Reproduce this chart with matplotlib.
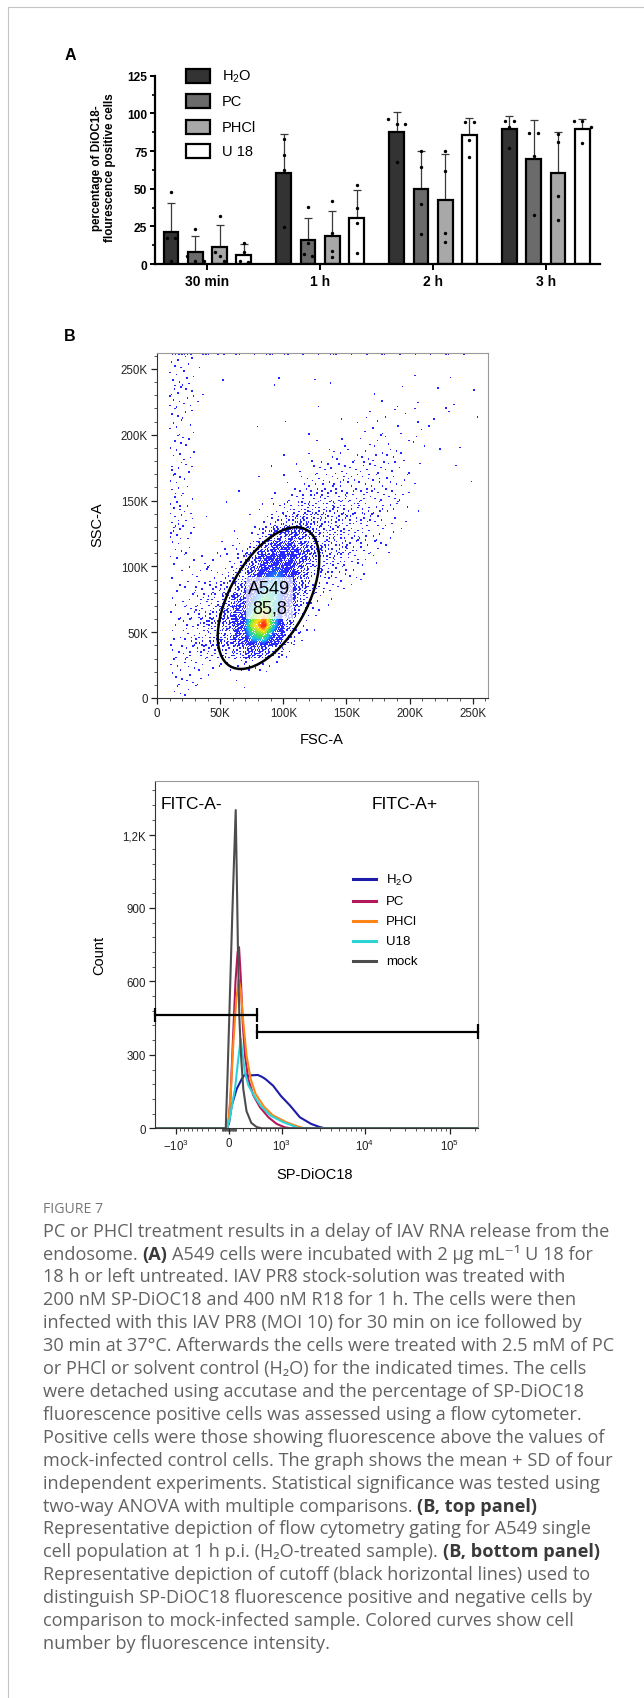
import numpy as np
import matplotlib
matplotlib.use('Agg')
import matplotlib.pyplot as plt
from matplotlib.patches import Ellipse, Rectangle
from matplotlib.lines import Line2D
from matplotlib.colors import LinearSegmentedColormap
from matplotlib.ticker import FixedLocator, FixedFormatter, MultipleLocator

plt.rcParams['font.family'] = ['Liberation Sans', 'DejaVu Sans']
plt.rcParams['mathtext.fontset'] = 'custom'
plt.rcParams['mathtext.rm'] = 'Liberation Sans'
plt.rcParams['mathtext.bf'] = 'Liberation Sans:bold'
plt.rcParams['mathtext.it'] = 'Liberation Sans:italic'

# ---------------- panel A : % DiOC18 positive cells ----------------
times = ['30 min', '1 h', '2 h', '3 h']
treatments = ['H$_2$O', 'PC', 'PHCl', 'U 18']
bar_colors = ['#333333', '#6b6b6b', '#a8a8a8', '#ffffff']

mean_h2o = [21.0, 60.2, 87.4, 89.3]
mean_pc = [8.2, 16.0, 49.5, 69.5]
mean_phcl = [11.5, 18.8, 42.5, 60.2]
mean_u18 = [6.3, 30.8, 85.8, 89.5]

sd_h2o = [19.5, 25.8, 13.3, 8.7]
sd_pc = [10.6, 14.8, 25.6, 25.8]
sd_phcl = [14.2, 16.6, 30.3, 27.3]
sd_u18 = [6.7, 18.6, 11.1, 6.5]

dots_h2o = [[48, 17, 2, 17], [83, 72.6, 62.4, 24.8], [96, 93, 93, 68], [95, 95, 91, 77]]
dots_pc = [[23.5, 5.5, 2, 2], [37.6, 14, 6.5, 5.5], [75, 64.6, 39.8, 20], [87, 87, 72, 32.5]]
dots_phcl = [[32, 8, 5.5, 2], [41.6, 20.9, 8.8, 4.4], [75, 61.5, 20.6, 14.6], [86, 80.7, 45.3, 29.4]]
dots_u18 = [[14, 8, 2, 1], [52.4, 36.9, 27.2, 7.3], [94.5, 94.5, 82, 71.2], [94.7, 94.7, 91, 80]]

# ---------------- panel B top : FSC-A / SSC-A dot plot ----------------
# estimated events per 10K x 10K cell, rows from SSC 250-260K down to 0-10K,
# columns FSC 0-10K ... 250-260K
scatter_grid = [
    [0,4,3,1,0,0,0,0,0,0,0,0,0,0,0,0,0,0,0,0,0,0,0,0,0,0],
    [0,4,3,0,0,1,0,0,0,1,0,0,1,0,0,0,0,0,0,0,1,0,0,1,0,0],
    [0,5,4,1,0,0,0,0,0,1,0,0,0,1,0,0,0,1,0,1,0,0,1,0,0,1],
    [0,5,4,1,0,0,0,0,0,0,0,0,1,0,0,0,0,1,0,1,2,0,1,1,0,0],
    [0,4,3,0,0,0,0,0,0,0,1,0,0,0,1,0,2,1,2,1,0,1,0,1,0,1],
    [0,4,2,0,0,0,0,1,0,0,0,0,1,0,0,1,1,2,0,2,2,1,0,0,0,0],
    [0,3,3,0,0,0,0,0,0,0,0,0,1,0,2,0,2,3,2,1,2,1,0,0,1,0],
    [0,4,3,0,0,0,0,0,0,0,1,0,2,2,3,3,3,3,4,2,0,0,1,0,0,0],
    [0,5,3,0,0,0,0,0,0,1,0,2,3,4,4,4,5,4,4,2,1,0,0,1,0,0],
    [0,4,2,0,0,0,0,0,1,0,2,3,5,6,6,6,6,5,4,3,1,0,0,0,1,0],
    [0,5,2,0,0,0,1,0,0,2,3,5,8,8,8,7,7,6,5,3,0,0,0,0,0,0],
    [0,6,3,0,0,1,0,0,2,4,8,12,12,11,10,8,7,6,4,2,1,0,0,0,0,0],
    [0,6,3,1,0,0,0,1,3,8,15,20,16,12,11,9,8,5,3,1,0,0,0,0,0,0],
    [0,7,3,0,0,0,2,3,10,25,35,30,20,14,12,9,6,4,2,1,0,0,0,0,0,0],
    [0,4,2,0,1,2,4,10,30,50,50,35,20,14,12,8,5,3,2,0,0,0,0,0,0,0],
    [0,3,2,2,2,3,6,20,50,65,60,35,18,12,9,6,3,2,0,0,0,0,0,0,0,0],
    [0,2,2,3,4,6,12,35,70,80,65,30,14,9,6,3,2,0,0,0,0,0,0,0,0,0],
    [0,2,3,5,7,10,22,55,85,90,60,22,9,5,3,1,0,0,0,0,0,0,0,0,0,0],
    [0,2,4,7,10,16,35,75,100,90,50,15,5,2,0,0,0,0,0,0,0,0,0,0,0,0],
    [0,2,5,9,13,22,45,95,115,85,35,9,3,0,0,0,0,0,0,0,0,0,0,0,0,0],
    [0,3,6,10,15,25,50,110,130,80,25,5,1,0,0,0,0,0,0,0,0,0,0,0,0,0],
    [0,3,6,10,13,20,40,85,95,50,12,2,0,0,0,0,0,0,0,0,0,0,0,0,0,0],
    [0,4,6,8,8,10,18,35,30,12,3,0,0,0,0,0,0,0,0,0,0,0,0,0,0,0],
    [0,4,5,4,3,3,5,6,4,1,0,0,0,0,0,0,0,0,0,0,0,0,0,0,0,0],
    [0,4,3,2,1,0,1,0,0,0,0,0,0,0,0,0,0,0,0,0,0,0,0,0,0,0],
    [0,3,2,1,0,0,1,0,0,0,0,0,0,0,0,0,0,0,0,0,0,0,0,0,0,0],
]
# events piled up at the SSC maximum, per 10K FSC bin
top_edge = [0,4,3,2,2,1,2,1,2,1,2,1,1,2,1,1,1,1,1,1,1,1,1,1,1,0]
bin_k = 10000
scale_max = 262144
gate_center = (88300, 75900)
gate_width, gate_height, gate_angle = 120000, 60500, 59.3
gate_name, gate_pct = 'A549', '85,8'

# ---------------- panel B bottom : SP-DiOC18 histogram ----------------
h2o_x = [-1858, -30, 0, 37, 107, 179, 230, 270, 310, 438, 520, 590, 765, 972, 1290, 1700, 2330, 2900, 3390, 218000]
h2o_n = [0, 0, 20, 92, 161, 201, 222, 212, 216, 218, 210, 201, 174, 133, 92, 45, 18, 6, 0, 0]
pc_x = [-1858, -30, -5, 20, 55, 90, 120, 140, 164, 193, 228, 278, 360, 480, 654, 857, 1100, 1300, 218000]
pc_n = [0, 0, 30, 120, 365, 600, 720, 740, 624, 433, 297, 201, 135, 86, 45, 18, 4, 0, 0]
phcl_x = [-1858, -30, -5, 25, 60, 100, 135, 164, 202, 251, 317, 400, 560, 750, 1150, 1500, 1900, 218000]
phcl_n = [0, 0, 30, 150, 350, 520, 607, 569, 433, 297, 201, 140, 88, 54, 25, 11, 0, 0]
u18_x = [-1858, -25, 10, 50, 83, 120, 164, 193, 228, 280, 380, 500, 700, 1050, 1400, 1650, 218000]
u18_n = [0, 0, 40, 110, 161, 260, 365, 300, 225, 175, 130, 90, 52, 25, 10, 0, 0]
mock_x = [-1858, -45, -20, 0, 23, 45, 70, 93, 110, 126, 145, 169, 202, 251, 327, 420, 512, 218000]
mock_n = [0, 0, 220, 420, 650, 870, 1100, 1300, 1000, 705, 450, 297, 161, 70, 22, 5, 0, 0]
hist_labels = ['H$_2$O', 'PC', 'PHCl', 'U18', 'mock']
hist_colors = ['#1c1ca8', '#b3185c', '#ff8418', '#2ad4d4', '#4d4d4d']
cut_x = 425
neg_gate_y = 463
pos_gate_y = 395
hist_xmin, hist_xmax = -1858, 218000

# ---------------- caption ----------------
caption = [
    [("PC or PHCl treatment results in a delay of IAV RNA release from the", 0)],
    [("endosome.", 0), ("(A)", 1), ("A549 cells were incubated with 2 µg mL\u207b\u00b9 U 18 for", 0)],
    [("18 h or left untreated. IAV PR8 stock-solution was treated with", 0)],
    [("200 nM SP-DiOC18 and 400 nM R18 for 1 h. The cells were then", 0)],
    [("infected with this IAV PR8 (MOI 10) for 30 min on ice followed by", 0)],
    [("30 min at 37°C. Afterwards the cells were treated with 2.5 mM of PC", 0)],
    [("or PHCl or solvent control (H\u2082O) for the indicated times. The cells", 0)],
    [("were detached using accutase and the percentage of SP-DiOC18", 0)],
    [("fluorescence positive cells was assessed using a flow cytometer.", 0)],
    [("Positive cells were those showing fluorescence above the values of", 0)],
    [("mock-infected control cells. The graph shows the mean + SD of four", 0)],
    [("independent experiments. Statistical significance was tested using", 0)],
    [("two-way ANOVA with multiple comparisons.", 0), ("(B, top panel)", 1)],
    [("Representative depiction of flow cytometry gating for A549 single", 0)],
    [("cell population at 1 h p.i. (H\u2082O-treated sample).", 0), ("(B, bottom panel)", 1)],
    [("Representative depiction of cutoff (black horizontal lines) used to", 0)],
    [("distinguish SP-DiOC18 fluorescence positive and negative cells by", 0)],
    [("comparison to mock-infected sample. Colored curves show cell", 0)],
    [("number by fluorescence intensity.", 0)],
]

W, H = 644, 1699
fig = plt.figure(figsize=(W / 100, H / 100), dpi=100)


def rect(l, t, r, b):
    return [l / W, 1 - b / H, (r - l) / W, (b - t) / H]


def ftext(x, y, s, **kw):
    return fig.text(x / W, 1 - y / H, s, **kw)


# page frame (top and left rule)
fig.add_artist(Line2D([8 / W, 8 / W], [0, 1 - 8 / H], transform=fig.transFigure, color='#c4c4c4', lw=0.8))
fig.add_artist(Line2D([8 / W, 1], [1 - 8 / H, 1 - 8 / H], transform=fig.transFigure, color='#c4c4c4', lw=0.8))

# ======================= panel A =======================
ax = fig.add_axes(rect(155, 76.7, 600, 265))
means = [mean_h2o, mean_pc, mean_phcl, mean_u18]
sds = [sd_h2o, sd_pc, sd_phcl, sd_u18]
dots = [dots_h2o, dots_pc, dots_phcl, dots_u18]
offsets = [-0.3227, -0.1077, 0.1077, 0.3227]
bw = 0.131
gx = np.arange(len(times))


def spread(vals):
    offs = np.zeros(len(vals))
    for a in range(len(vals)):
        close = [b for b in range(len(vals)) if abs(vals[b] - vals[a]) < 4]
        if len(close) > 1:
            offs[a] = (close.index(a) - (len(close) - 1) / 2) * 0.075
    return offs


for k in range(4):
    xs = gx + offsets[k]
    ax.bar(xs, means[k], width=bw, color=bar_colors[k], edgecolor='black', linewidth=1.6, zorder=2)
    ax.errorbar(xs, means[k], yerr=[np.zeros(4), sds[k]], fmt='none', ecolor='#3a3a3a',
                elinewidth=0.9, capsize=3.2, capthick=0.9, zorder=1)
    for g in range(4):
        v = dots[k][g]
        ax.scatter(xs[g] + spread(v), v, s=6, color='black', zorder=3, linewidths=0)

ax.set_xlim(-0.465, 3.48)
ax.set_ylim(0, 125)
ax.set_yticks([0, 25, 50, 75, 100, 125])
ax.yaxis.set_minor_locator(MultipleLocator(12.5))
ax.set_xticks(gx)
ax.set_xticklabels(times, fontsize=10, fontweight='bold')
for lab in ax.get_yticklabels():
    lab.set_fontweight('bold')
    lab.set_fontsize(8.6)
ax.spines['top'].set_visible(False)
ax.spines['right'].set_visible(False)
ax.spines['left'].set_linewidth(1.6)
ax.spines['bottom'].set_linewidth(1.6)
ax.tick_params(axis='y', which='major', length=3.5, width=1.4, pad=2)
ax.tick_params(axis='y', which='minor', length=2.2, width=1.2)
ax.tick_params(axis='x', which='major', length=4, width=1.4, pad=3)

ftext(103.5, 168, 'percentage of DiOC18-\nflourescence positive cells', rotation=90,
      ha='center', va='center', fontsize=8.4, fontweight='bold', linespacing=1.12,
      multialignment='center')

leg_rows = [76.7, 102.3, 128.3, 152.3]
for k in range(4):
    yc = leg_rows[k]
    fig.add_artist(Rectangle((186 / W, 1 - (yc + 7) / H), 24 / W, 14 / H, transform=fig.transFigure,
                             facecolor=bar_colors[k], edgecolor='black', linewidth=1.6))
    ftext(221.7, yc, treatments[k], ha='left', va='center', fontsize=10.5)

ftext(70, 55, 'A', fontsize=11.5, fontweight='bold', ha='center', va='center')
ftext(70, 337, 'B', fontsize=11.5, fontweight='bold', ha='center', va='center')

# ======================= panel B top =======================
axs = fig.add_axes(rect(157, 354, 488, 699))
grid = np.array(scatter_grid[::-1], dtype=float)  # row 0 -> SSC 0-10K
a1, a2 = 0.7548776662, 0.5698402910
px, py = [], []
for i in range(grid.shape[0]):
    for j in range(grid.shape[1]):
        n = int(grid[i, j])
        if n == 0:
            continue
        k = np.arange(1, n + 1)
        su = (i * 0.371 + j * 0.613) % 1
        sv = (i * 0.527 + j * 0.289) % 1
        px.append((j + (0.5 + k * a1 + su) % 1) * bin_k)
        py.append((i + (0.5 + k * a2 + sv) % 1) * bin_k)
for j, n in enumerate(top_edge):
    if n:
        k = np.arange(1, n + 1)
        px.append((j + (0.5 + k * a1 + 0.21 * j) % 1) * bin_k)
        py.append(np.full(n, scale_max - 900.0))
px = np.concatenate(px)
py = np.concatenate(py)

# local density (bilinear on cell centres) for pseudo-colour
cx = (np.arange(grid.shape[1]) + 0.5) * bin_k
cy = (np.arange(grid.shape[0]) + 0.5) * bin_k
fx = np.clip(np.interp(px, cx, np.arange(len(cx))), 0, len(cx) - 1)
fy = np.clip(np.interp(py, cy, np.arange(len(cy))), 0, len(cy) - 1)
x0 = np.floor(fx).astype(int); x1 = np.minimum(x0 + 1, len(cx) - 1)
y0 = np.floor(fy).astype(int); y1 = np.minimum(y0 + 1, len(cy) - 1)
tx = fx - x0; ty = fy - y0
dens = (grid[y0, x0] * (1 - tx) * (1 - ty) + grid[y0, x1] * tx * (1 - ty)
        + grid[y1, x0] * (1 - tx) * ty + grid[y1, x1] * tx * ty)
flow_cmap = LinearSegmentedColormap.from_list(
    'flow', [(0, '#2424ff'), (0.55, '#2a2aff'), (0.68, '#18b4ff'), (0.78, '#40e650'),
             (0.9, '#ffe21a'), (1.0, '#ff2a10')])
order = np.argsort(dens)
axs.scatter(px[order], py[order], c=dens[order], cmap=flow_cmap, vmin=0, vmax=128,
            s=1.2, marker='s', linewidths=0, zorder=2)
axs.add_patch(Ellipse(gate_center, gate_width, gate_height, angle=gate_angle, fill=False,
                      edgecolor='black', linewidth=1.8, zorder=4))
axs.text(89000, 76000, gate_name + '\n' + gate_pct, ha='center', va='center', fontsize=13,
         linespacing=1.2, zorder=5,
         bbox=dict(facecolor='white', alpha=0.72, edgecolor='none', boxstyle='square,pad=0.15'))
axs.set_xlim(0, scale_max)
axs.set_ylim(0, scale_max)
kt = [0, 50000, 100000, 150000, 200000, 250000]
kl = ['0', '50K', '100K', '150K', '200K', '250K']
axs.xaxis.set_major_locator(FixedLocator(kt))
axs.xaxis.set_major_formatter(FixedFormatter(kl))
axs.yaxis.set_major_locator(FixedLocator(kt))
axs.yaxis.set_major_formatter(FixedFormatter(kl))
axs.xaxis.set_minor_locator(MultipleLocator(10000))
axs.yaxis.set_minor_locator(MultipleLocator(10000))
axs.tick_params(which='major', length=4, width=0.9, labelsize=8.3, pad=2.5, colors='#222222')
axs.tick_params(which='minor', length=2.3, width=0.7, colors='#555555')
for sp in axs.spines.values():
    sp.set_color('#9a9a9a')
    sp.set_linewidth(0.8)
axs.spines['left'].set_color('#333333')
axs.spines['bottom'].set_color('#333333')
ftext(321.7, 740, 'FSC-A', ha='center', va='center', fontsize=10.5)
ftext(97.3, 525, 'SSC-A', ha='center', va='center', fontsize=10.5, rotation=90)

# ======================= panel B bottom =======================
axh = fig.add_axes(rect(155, 781.7, 478.3, 1129.3))
w_lin = 510.0
axh.set_xscale('function', functions=(lambda v: np.arcsinh(np.asarray(v) / w_lin),
                                      lambda v: w_lin * np.sinh(np.asarray(v))))
curves = [(h2o_x, h2o_n), (pc_x, pc_n), (phcl_x, phcl_n), (u18_x, u18_n), (mock_x, mock_n)]
draw_order = [0, 3, 2, 1, 4]
for k in draw_order:
    axh.plot(curves[k][0], curves[k][1], color=hist_colors[k], lw=1.5, zorder=2 + k * 0.1)
# cutoff gates
axh.plot([hist_xmin, cut_x], [neg_gate_y, neg_gate_y], color='black', lw=1.6, zorder=5, clip_on=False)
axh.plot([cut_x, hist_xmax], [pos_gate_y, pos_gate_y], color='black', lw=1.6, zorder=5, clip_on=False)
axh.vlines([hist_xmin, cut_x], neg_gate_y - 30, neg_gate_y + 30, color='black', lw=1.6, zorder=5, clip_on=False)
axh.vlines([cut_x, hist_xmax], pos_gate_y - 30, pos_gate_y + 30, color='black', lw=1.6, zorder=5, clip_on=False)
axh.set_xlim(hist_xmin, hist_xmax)
axh.set_ylim(0, 1420)
axh.xaxis.set_major_locator(FixedLocator([-1000, 0, 1000, 10000, 100000]))
axh.xaxis.set_major_formatter(FixedFormatter([r'$\mathregular{-10^3}$', '0', r'$\mathregular{10^3}$',
                                              r'$\mathregular{10^4}$', r'$\mathregular{10^5}$']))
minor = []
for dec in [10, 100, 1000, 10000, 100000]:
    for m in range(1, 10):
        v = m * dec
        if v not in (1000, 10000, 100000) and v < hist_xmax:
            minor.append(v)
            if v < 1000:
                minor.append(-v)
axh.xaxis.set_minor_locator(FixedLocator(sorted(minor)))
axh.yaxis.set_major_locator(FixedLocator([0, 300, 600, 900, 1200]))
axh.yaxis.set_major_formatter(FixedFormatter(['0', '300', '600', '900', '1,2K']))
axh.yaxis.set_minor_locator(MultipleLocator(60))
axh.tick_params(which='major', length=4, width=0.9, labelsize=8.3, pad=2.5, colors='#222222')
axh.tick_params(which='minor', length=2.3, width=0.7, colors='#555555')
for sp in axh.spines.values():
    sp.set_color('#9a9a9a')
    sp.set_linewidth(0.8)
axh.spines['left'].set_color('#333333')
axh.spines['bottom'].set_color('#333333')

ftext(161, 805, 'FITC-A-', ha='left', va='center', fontsize=12.5)
ftext(371.6, 805, 'FITC-A+', ha='left', va='center', fontsize=12.5)
hist_rows = [880, 902.3, 922, 941.7, 961.7]
for k in range(5):
    yc = hist_rows[k]
    fig.add_artist(Line2D([352.5 / W, 376.1 / W], [1 - yc / H, 1 - yc / H], transform=fig.transFigure,
                          color=hist_colors[k], lw=2.2))
    ftext(385.7, yc, hist_labels[k], ha='left', va='center', fontsize=9.5)
ftext(315, 1175, 'SP-DiOC18', ha='center', va='center', fontsize=10.5)
ftext(99.2, 955, 'Count', ha='center', va='center', fontsize=10.5, rotation=90)

# ======================= caption =======================
cap_family = ['Open Sans', 'DejaVu Sans']
fig.canvas.draw()
rend = fig.canvas.get_renderer()
probe = fig.text(0, 0, caption[10][0][0], fontsize=12, family=cap_family)
size = 12 * 566.0 / probe.get_window_extent(rend).width
probe.remove()
probe = fig.text(0, 0, 'a a', fontsize=size, family=cap_family)
w_sp = probe.get_window_extent(rend).width
probe.set_text('aa')
w_sp -= probe.get_window_extent(rend).width
probe.remove()

ftext(43, 1210, 'FIGURE 7', ha='left', va='center', fontsize=size * 0.78, family=cap_family,
      color='#777777')
for i, line in enumerate(caption):
    y = 1231.7 + 22.9 * i
    x = 43.0
    for text, bold in line:
        t = ftext(x, y, text, ha='left', va='center', fontsize=size, family=cap_family,
                  fontweight='bold' if bold else 'normal', color='#3a3a3a' if bold else '#626262')
        x += t.get_window_extent(rend).width + w_sp

fig.savefig('out.png', dpi=100)
